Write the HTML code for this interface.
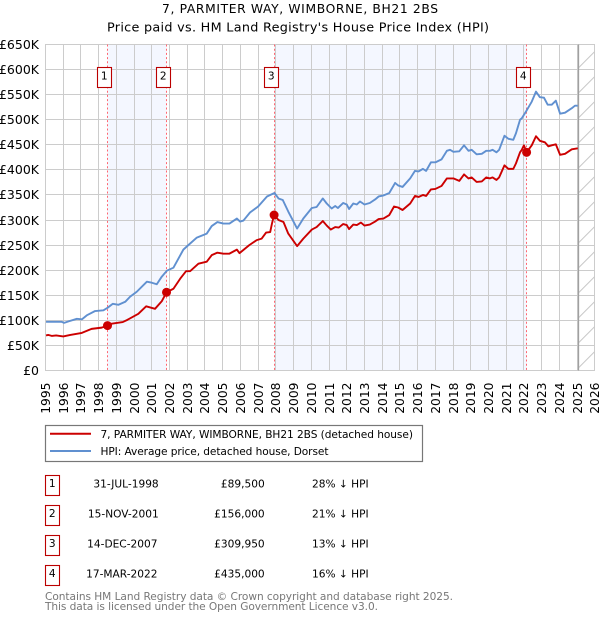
<!DOCTYPE html>
<html lang="en">
<head>
<meta charset="utf-8">
<title>7, PARMITER WAY, WIMBORNE, BH21 2BS</title>
<style>
html,body{margin:0;padding:0;background:#fff;}
body{width:600px;height:620px;overflow:hidden;}
svg{display:block;}
text{font-family:"DejaVu Sans","Liberation Sans",sans-serif;fill:#000;}
</style>
</head>
<body>
<svg id="chart" xmlns="http://www.w3.org/2000/svg" width="600" height="620" viewBox="0 0 600 620">
  <text x="162" y="13" font-size="12.3" textLength="276" lengthAdjust="spacing">7, PARMITER WAY, WIMBORNE, BH21 2BS</text>
  <text x="107" y="31.5" font-size="12.8" textLength="382" lengthAdjust="spacing">Price paid vs. HM Land Registry's House Price Index (HPI)</text>

  <g id="bands"></g>
  <g id="grid"></g>
  <g id="hatch"></g>
  <g id="yaxis"></g>
  <g id="xaxis"></g>
  <g id="salelines"></g>
  <g id="series"></g>
  <g id="markers"></g>
  <g id="flags"></g>

  <g>
    <rect x="45.5" y="425.5" width="377" height="36" fill="#fff" stroke="#777" stroke-width="1.2"/>
    <line x1="50" x2="91" y1="433.7" y2="433.7" stroke="#cc0000" stroke-width="2"/>
    <text x="100.5" y="438" font-size="10.6" textLength="312.5" lengthAdjust="spacing">7, PARMITER WAY, WIMBORNE, BH21 2BS (detached house)</text>
    <line x1="50" x2="91" y1="451" y2="451" stroke="#6090d0" stroke-width="2"/>
    <text x="100.5" y="455" font-size="10.6" textLength="228" lengthAdjust="spacing">HPI: Average price, detached house, Dorset</text>
  </g>

  <g>
    <g>
      <rect x="45.5" y="475.5" width="14" height="20" fill="#fff" stroke="#bb0000" stroke-width="1.1"/>
      <text x="52.3" y="487" text-anchor="middle" font-size="10.6">1</text>
      <text x="158.7" y="487.3" text-anchor="end" font-size="10.6">31-JUL-1998</text>
      <text x="264.7" y="487.3" text-anchor="end" font-size="10.6">£89,500</text>
      <text x="312" y="487.3" font-size="10.6">28% ↓ HPI</text>
    </g>
    <g>
      <rect x="45.5" y="505.5" width="14" height="20" fill="#fff" stroke="#bb0000" stroke-width="1.1"/>
      <text x="52.3" y="517" text-anchor="middle" font-size="10.6">2</text>
      <text x="158.7" y="517.3" text-anchor="end" font-size="10.6">15-NOV-2001</text>
      <text x="264.7" y="517.3" text-anchor="end" font-size="10.6">£156,000</text>
      <text x="312" y="517.3" font-size="10.6">21% ↓ HPI</text>
    </g>
    <g>
      <rect x="45.5" y="535.5" width="14" height="20" fill="#fff" stroke="#bb0000" stroke-width="1.1"/>
      <text x="52.3" y="547" text-anchor="middle" font-size="10.6">3</text>
      <text x="157.5" y="547.3" text-anchor="end" font-size="10.6">14-DEC-2007</text>
      <text x="264.7" y="547.3" text-anchor="end" font-size="10.6">£309,950</text>
      <text x="312" y="547.3" font-size="10.6">13% ↓ HPI</text>
    </g>
    <g>
      <rect x="45.5" y="565.5" width="14" height="20" fill="#fff" stroke="#bb0000" stroke-width="1.1"/>
      <text x="52.3" y="577" text-anchor="middle" font-size="10.6">4</text>
      <text x="157.5" y="577.3" text-anchor="end" font-size="10.6">17-MAR-2022</text>
      <text x="264.7" y="577.3" text-anchor="end" font-size="10.6">£435,000</text>
      <text x="312" y="577.3" font-size="10.6">16% ↓ HPI</text>
    </g>
  </g>

  <text x="45" y="600" font-size="10.6" textLength="408" lengthAdjust="spacing" style="fill:#777">Contains HM Land Registry data © Crown copyright and database right 2025.</text>
  <text x="45" y="610" font-size="10.6" textLength="333" lengthAdjust="spacing" style="fill:#777">This data is licensed under the Open Government Licence v3.0.</text>
</svg>
<script>
const yTicks = [0,50,100,150,200,250,300,350,400,450,500,550,600,650];
const xTicks = [1995,1996,1997,1998,1999,2000,2001,2002,2003,2004,2005,2006,2007,2008,2009,2010,2011,2012,2013,2014,2015,2016,2017,2018,2019,2020,2021,2022,2023,2024,2025,2026];
const yTickLabels = ["£0","£50K","£100K","£150K","£200K","£250K","£300K","£350K","£400K","£450K","£500K","£550K","£600K","£650K"];
const hpiDates = [1995.03,1995.5,1995.92,1996.05,1996.3,1996.77,1997.05,1997.33,1997.8,1998.27,1998.5,1998.8,1999.12,1999.5,1999.77,2000.15,2000.72,2001,2001.28,2001.56,2001.85,2002.22,2002.78,2003.06,2003.54,2004.1,2004.38,2004.7,2005.04,2005.38,2005.8,2005.98,2006.17,2006.54,2007,2007.5,2007.92,2008.15,2008.39,2008.7,2009.2,2009.55,2010.03,2010.3,2010.65,2010.87,2011.15,2011.35,2011.5,2011.8,2012,2012.13,2012.37,2012.57,2012.75,2013,2013.3,2013.6,2013.8,2014.07,2014.4,2014.73,2014.9,2015.15,2015.58,2015.85,2016.05,2016.3,2016.48,2016.75,2017,2017.35,2017.65,2017.83,2018.02,2018.35,2018.62,2018.87,2019.05,2019.33,2019.62,2019.87,2020.08,2020.23,2020.45,2020.6,2020.9,2021.12,2021.4,2021.55,2021.78,2021.88,2022.16,2022.44,2022.68,2022.9,2023.13,2023.34,2023.57,2023.8,2024.04,2024.32,2024.7,2024.88,2025.04];
const hpiValues = [97,97,97,95,98,103,102,110,118.6,120,125,133,131,137,147,157,177,175,172,187,199,205,241,250,265,273,288,296,293,293,303,297,299,315,327,347,354,343,340,317,283,303,324,326,343,333,323,328,324,334,331,322,333,331,337,331,334,341,347,349,354,374,369,366,383,398,397,402,398,415,415,421,438,440,436,437,449,438,440,431,432,438,438,440,435,440,468,462,460,473,500,503,519,536,556,545,544,530,530,538,512,514,523,528,528];
const priceDates = [1995.03,1995.15,1995.35,1995.6,1996,1996.4,1997.05,1997.6,1998.17,1998.5,1998.74,1999.36,1999.62,2000.24,2000.68,2001.18,2001.56,2001.83,2002.22,2002.6,2002.93,2003.16,2003.63,2004.1,2004.38,2004.7,2005.04,2005.38,2005.8,2005.95,2006.5,2006.92,2007.2,2007.45,2007.68,2007.78,2007.9,2008.15,2008.43,2008.7,2009.2,2009.55,2010.03,2010.3,2010.65,2010.87,2011.1,2011.35,2011.55,2011.8,2012,2012.13,2012.37,2012.57,2012.8,2013,2013.3,2013.6,2013.8,2014.07,2014.4,2014.67,2014.9,2015.15,2015.58,2015.85,2016.05,2016.3,2016.48,2016.75,2017,2017.35,2017.65,2017.83,2018.02,2018.35,2018.62,2018.87,2019.05,2019.33,2019.62,2019.87,2020.08,2020.23,2020.45,2020.6,2020.9,2021.12,2021.4,2021.55,2021.78,2021.88,2022,2022.15,2022.44,2022.68,2022.9,2023.18,2023.38,2023.57,2023.8,2024.04,2024.32,2024.7,2025.04];
const priceValues = [70,71,69,70,68,71,75,83,85.5,89.5,93.4,96.6,101,113,128,123,138,156,163,183,198,198,213,217,230,235,233,233,241,234,250,260,263,275,276,293,310,300,296,273,248,263,281,286,298,289,281,286,285,292,290,282,291,290,295,289,291,297,302,303,310,327,325,320,333,348,346,350,348,361,362,368,383,383,383,378,391,383,385,376,377,385,383,385,380,385,409,402,402,413,435,440,449,435,449,467,458,455,447,449,451,430,432,441,443];
const saleDates = [1998.5,2001.83,2007.9,2022.15];
const salePrices = [89.5,156,309.95,435];
const saleLabels = ["1","2","3","4"];
const bandStarts = [1998.5,2007.9];
const bandEnds = [2001.83,2022.15];
const todayDate = 2025.07;

const NS = 'http://www.w3.org/2000/svg';
const xOf = d => 45.5 + (d - 1995) * 17.72;
const yOf = v => 370.5 - v * (326 / 650);
const crisp = p => Math.floor(p) + 0.5;
const mk = (parent, tag, attrs) => {
  const el = document.createElementNS(NS, tag);
  for (const k in attrs) el.setAttribute(k, attrs[k]);
  document.getElementById(parent).appendChild(el);
  return el;
};

bandStarts.forEach((s, i) => {
  const el = mk('bands', 'rect', {x: xOf(s), y: 44.5, width: xOf(bandEnds[i]) - xOf(s), height: 326, fill: '#f4f7ff'});
  
  
});

yTicks.forEach((t, i) => {
  const y = crisp(yOf(t));
  const line = mk('grid', 'line', {x1: 45, x2: 595, y1: y, y2: y, stroke: '#cccccc', 'stroke-width': 1});
  
  
  const label = mk('yaxis', 'text', {x: 39, y: y + 4.5, 'text-anchor': 'end', 'font-size': 12.5});
  label.textContent = yTickLabels[i];
  
  
});

xTicks.forEach(t => {
  const x = crisp(xOf(t));
  const line = mk('grid', 'line', {x1: x, x2: x, y1: 44, y2: 371, stroke: '#cccccc', 'stroke-width': 1});
  
  
  const label = mk('xaxis', 'text', {transform: 'translate(' + (x + 4.5) + ',382.5) rotate(-90)', 'text-anchor': 'end', 'font-size': 12.3});
  label.textContent = String(t);
  
  
});

const hatchLeft = xOf(todayDate);
const hatchRight = xOf(2026);
const clip = mk('hatch', 'clipPath', {id: 'hatch-clip'});
const clipRect = document.createElementNS(NS, 'rect');
clipRect.setAttribute('x', hatchLeft);
clipRect.setAttribute('y', 44.5);
clipRect.setAttribute('width', hatchRight - hatchLeft);
clipRect.setAttribute('height', 326);
clip.appendChild(clipRect);
for (let y0 = 68; y0 <= 420; y0 += 25) {
  const h = mk('hatch', 'line', {x1: hatchLeft, x2: hatchRight, y1: y0, y2: y0 - (hatchRight - hatchLeft), stroke: '#c8c8c8', 'stroke-width': 1, 'clip-path': 'url(#hatch-clip)'});
  
  
}
const today = mk('hatch', 'line', {x1: crisp(xOf(todayDate)), x2: crisp(xOf(todayDate)), y1: 44.5, y2: 370.5, stroke: '#a0a0a0', 'stroke-width': 1.3});



saleDates.forEach(d => {
  const x = crisp(xOf(d));
  const l = mk('salelines', 'line', {x1: x, x2: x, y1: 44.5, y2: 370.5, stroke: '#ff6670', 'stroke-width': 1, 'stroke-dasharray': '2 2.2'});
  
  
});

const toPath = (ds, vs) => ds.map((d, i) => (i ? 'L' : 'M') + xOf(d).toFixed(2) + ' ' + yOf(vs[i]).toFixed(2)).join(' ');
const hpiLine = mk('series', 'path', {d: toPath(hpiDates, hpiValues), fill: 'none', stroke: '#6090d0', 'stroke-width': 1.9, 'stroke-linejoin': 'round'});


const priceLine = mk('series', 'path', {d: toPath(priceDates, priceValues), fill: 'none', stroke: '#cc0000', 'stroke-width': 1.9, 'stroke-linejoin': 'round'});



saleDates.forEach((d, i) => {
  const c = mk('markers', 'circle', {cx: xOf(d), cy: yOf(salePrices[i]), r: 4.5, fill: '#cc0000'});
  
  
  const x = crisp(xOf(d));
  const box = mk('flags', 'rect', {x: x - 10, y: 67.5, width: 14, height: 20, fill: '#fff', stroke: '#bb0000', 'stroke-width': 1.1});
  
  
  const t = mk('flags', 'text', {x: x - 3.2, y: 79.5, 'text-anchor': 'middle', 'font-size': 10.6});
  t.textContent = saleLabels[i];
  
  
});
</script>
</body>
</html>
